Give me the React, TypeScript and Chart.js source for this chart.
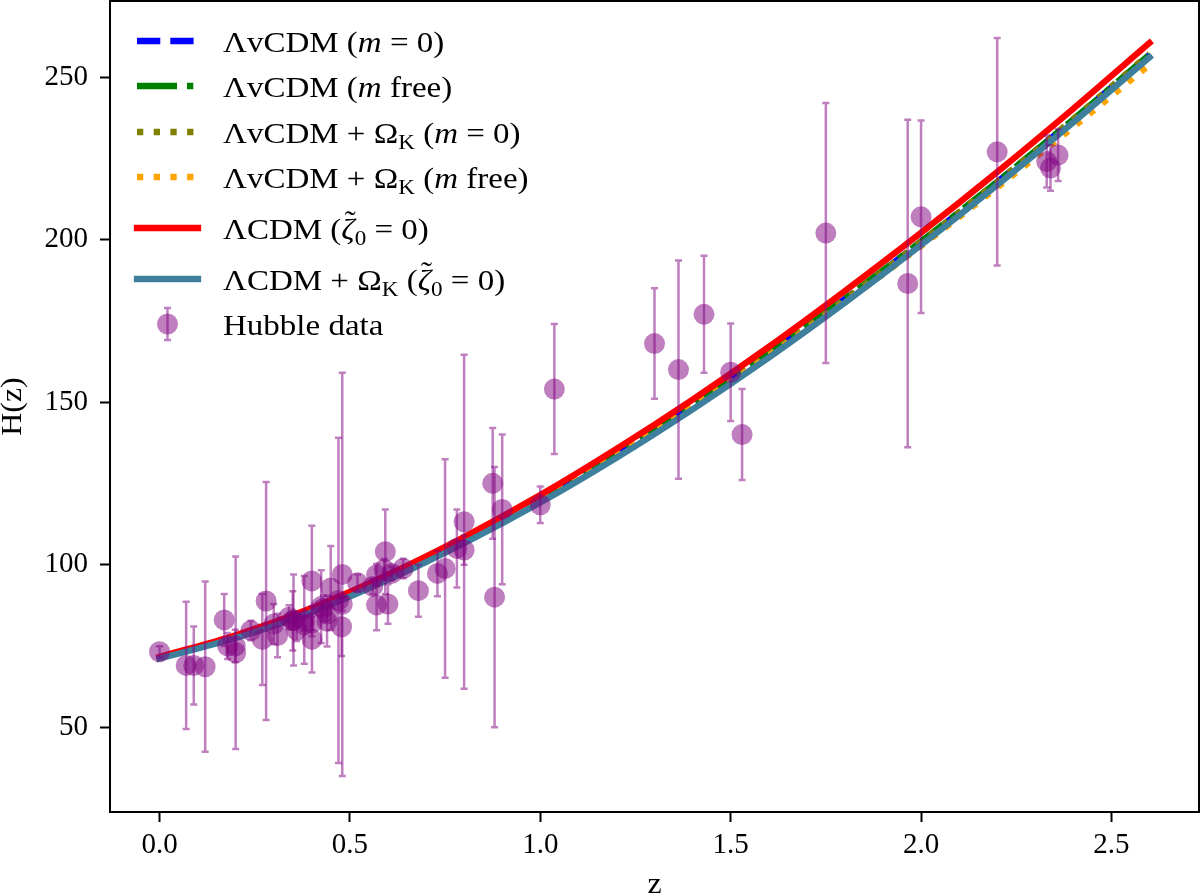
import React, { useEffect, useRef } from "react";
import { Chart, registerables } from "chart.js";

Chart.register(...registerables);

// ---------- data ----------
const Z_MODEL = [0, 0.2, 0.4, 0.6, 0.8, 1.0, 1.2, 1.4, 1.6, 1.8, 2.0, 2.2, 2.4, 2.6];

const H_LVCDM_M0 = [71.4, 77.9, 86.0, 96.0, 107.4, 120.0, 133.9, 148.9, 164.9, 181.7, 199.3, 217.7, 236.9, 256.8];
const H_LVCDM_MFREE = [71.4, 77.9, 86.0, 96.0, 107.4, 120.0, 133.9, 149.0, 165.0, 181.8, 199.4, 217.8, 237.0, 256.9];
const H_LVCDM_OK_M0 = [71.3, 77.8, 85.9, 95.9, 107.3, 119.9, 133.8, 148.8, 164.8, 181.6, 199.3, 217.8, 237.1, 257.2];
const H_LVCDM_OK_MFREE = [71.3, 77.8, 85.9, 95.9, 107.2, 119.8, 133.6, 148.4, 164.2, 180.8, 198.0, 216.0, 234.6, 253.8];
const H_LCDM = [71.6, 78.3, 86.7, 96.9, 108.5, 121.4, 135.6, 150.8, 167.0, 184.2, 202.1, 220.8, 240.3, 260.5];
const H_LCDM_OK = [71.1, 77.4, 85.4, 95.3, 106.6, 119.1, 132.9, 147.8, 163.7, 180.6, 198.3, 216.8, 236.1, 256.1];

const HZ_Z = [
  0, 0.07, 0.09, 0.12, 0.17, 0.179, 0.199, 0.2, 0.24, 0.27, 0.28, 0.30, 0.31, 0.34, 0.35, 0.352,
  0.36, 0.38, 0.3802, 0.4, 0.40, 0.4004, 0.4247, 0.43, 0.44, 0.44, 0.4497, 0.47, 0.4783, 0.48,
  0.48, 0.52, 0.56, 0.57, 0.57, 0.59, 0.593, 0.60, 0.61, 0.64, 0.68, 0.73, 0.75, 0.781, 0.8,
  0.8, 0.875, 0.88, 0.9, 1.0, 1.037, 1.3, 1.363, 1.43, 1.5, 1.53, 1.75, 1.965, 2.0, 2.2,
  2.33, 2.34, 2.36,
];
const HZ_H = [
  73.2, 69, 69, 68.6, 83, 75, 75, 72.9, 79.7, 77, 88.8, 81.7, 78.2, 83.8, 82.7, 83,
  79.9, 81.5, 83, 95, 82.0, 77, 87.1, 86.5, 82.6, 84.8, 92.8, 89, 80.9, 97,
  87.8, 94.4, 93.3, 87.6, 96.8, 98.5, 104, 87.9, 97.3, 98.8, 92, 97.3, 98.8, 105, 113.2,
  104.5, 125, 90, 117, 118.4, 154, 168, 160, 177, 159.2, 140, 202, 186.5, 207, 227,
  224, 222, 226,
];
const HZ_ERR = [
  1.7, 19.6, 12, 26.2, 8, 4, 5, 29.6, 3.0, 14, 36.6, 6.2, 6.7, 3.7, 9.1, 14,
  3.4, 1.9, 13.5, 17, 2.0, 10.2, 11.2, 4.0, 7.8, 1.8, 12.9, 50, 9, 62,
  2.0, 2.6, 2.3, 7.8, 3.4, 3.2, 13, 6.1, 2.1, 3.0, 8, 7.0, 33.6, 12, 51.4,
  4.5, 17, 40, 23, 5.6, 20, 17, 33.6, 18, 15, 14, 40, 50.4, 29.6, 35,
  8, 7, 8,
];

const X_TICKS = [0, 0.5, 1.0, 1.5, 2.0, 2.5];
const X_TICK_LABELS = ["0.0", "0.5", "1.0", "1.5", "2.0", "2.5"];
const Y_TICKS = [50, 100, 150, 200, 250];
const Y_TICK_LABELS = ["50", "100", "150", "200", "250"];

const X_LABEL = "z";
const Y_LABEL = "H(z)";

type Run = { t: string; it?: boolean; sub?: boolean; tilde?: boolean };
const LEGEND_LABELS: Run[][] = [
  [{ t: "ΛvCDM (" }, { t: "m", it: true }, { t: " = 0)" }],
  [{ t: "ΛvCDM (" }, { t: "m", it: true }, { t: " free)" }],
  [{ t: "ΛvCDM + Ω" }, { t: "K", sub: true }, { t: " (" }, { t: "m", it: true }, { t: " = 0)" }],
  [{ t: "ΛvCDM + Ω" }, { t: "K", sub: true }, { t: " (" }, { t: "m", it: true }, { t: " free)" }],
  [{ t: "ΛCDM (" }, { t: "ζ", it: true, tilde: true }, { t: "0", sub: true }, { t: " = 0)" }],
  [{ t: "ΛCDM + Ω" }, { t: "K", sub: true }, { t: " (" }, { t: "ζ", it: true, tilde: true }, { t: "0", sub: true }, { t: " = 0)" }],
  [{ t: "Hubble data" }],
];

// ---------- styles ----------
const FONT = '"Liberation Serif", "Times New Roman", serif';
const SX = 1.1;
const LW = 6.3;
const PURPLE = "rgba(128,0,128,0.5)";
const TEAL = "#3d7f9c";

const SERIES = [
  { data: H_LVCDM_M0, color: "#0000ff", dash: [23.3, 10], cap: "butt", order: 7 },
  { data: H_LVCDM_MFREE, color: "#008000", dash: [40, 10, 6.3, 10], cap: "butt", order: 6 },
  { data: H_LVCDM_OK_M0, color: "#808000", dash: [6.3, 10.4], cap: "butt", order: 5 },
  { data: H_LVCDM_OK_MFREE, color: "#ffa500", dash: [6.3, 10.4], cap: "butt", order: 4 },
  { data: H_LCDM, color: "#ff0000", dash: [] as number[], cap: "square", order: 3 },
  { data: H_LCDM_OK, color: TEAL, dash: [] as number[], cap: "square", order: 2 },
];

const LEGEND_ROWS_Y = [41, 86, 132, 177, 228, 279, 324];

function drawRich(ctx: CanvasRenderingContext2D, runs: Run[], x: number, y: number) {
  let cx = x;
  for (const r of runs) {
    const size = r.sub ? 21 : 30;
    ctx.font = `${r.it ? "italic " : ""}${size}px ${FONT}`;
    const dy = r.sub ? 6 : 0;
    const w = ctx.measureText(r.t).width;
    ctx.save();
    ctx.translate(cx, y + dy);
    ctx.scale(SX, 1);
    ctx.fillText(r.t, 0, 0);
    if (r.tilde) {
      ctx.font = `${size}px ${FONT}`;
      ctx.textAlign = "center";
      ctx.fillText("\u02DC", w / 2 + 2, -8);
    }
    ctx.restore();
    cx += w * SX;
  }
}

function drawErrorBar(ctx: CanvasRenderingContext2D, x: number, yTop: number, yBot: number) {
  ctx.beginPath();
  ctx.moveTo(x, yTop);
  ctx.lineTo(x, yBot);
  ctx.moveTo(x - 3.5, yTop);
  ctx.lineTo(x + 3.5, yTop);
  ctx.moveTo(x - 3.5, yBot);
  ctx.lineTo(x + 3.5, yBot);
  ctx.stroke();
}

const HUBBLE_INDEX = SERIES.length;

function zeroPadding(scale: any) {
  scale.paddingLeft = 0;
  scale.paddingRight = 0;
  scale.paddingTop = 0;
  scale.paddingBottom = 0;
}

const decorPlugin = {
  id: "decor",
  beforeDatasetDraw(chart: any, args: any) {
    if (args.index !== HUBBLE_INDEX) return;
    const { ctx, scales } = chart;
    ctx.save();
    ctx.strokeStyle = PURPLE;
    ctx.lineWidth = 2.5;
    for (let i = 0; i < HZ_Z.length; i++) {
      const x = scales.x.getPixelForValue(HZ_Z[i]);
      const yt = scales.y.getPixelForValue(HZ_H[i] + HZ_ERR[i]);
      const yb = scales.y.getPixelForValue(HZ_H[i] - HZ_ERR[i]);
      drawErrorBar(ctx, x, yt, yb);
    }
    ctx.restore();
  },
  afterDraw(chart: any) {
    const { ctx, chartArea } = chart;
    ctx.save();
    // frame
    ctx.strokeStyle = "#000";
    ctx.lineWidth = 2;
    ctx.strokeRect(chartArea.left, chartArea.top, chartArea.right - chartArea.left, chartArea.bottom - chartArea.top);

    // axis titles
    ctx.fillStyle = "#000";
    ctx.font = `29px ${FONT}`;
    ctx.textAlign = "center";
    ctx.textBaseline = "alphabetic";
    ctx.save();
    ctx.translate((chartArea.left + chartArea.right) / 2, 893);
    ctx.scale(SX, 1);
    ctx.fillText(X_LABEL, 0, 0);
    ctx.restore();
    ctx.save();
    ctx.translate(21, (chartArea.top + chartArea.bottom) / 2);
    ctx.rotate(-Math.PI / 2);
    ctx.scale(SX, 1);
    ctx.fillText(Y_LABEL, 0, 0);
    ctx.restore();

    // legend
    ctx.textAlign = "left";
    const hx0 = 137;
    const hx1 = 198;
    SERIES.forEach((s, i) => {
      const y = LEGEND_ROWS_Y[i];
      ctx.save();
      ctx.strokeStyle = s.color;
      ctx.lineWidth = LW;
      ctx.lineCap = s.cap as CanvasLineCap;
      ctx.setLineDash(s.dash);
      ctx.beginPath();
      ctx.moveTo(hx0, y);
      ctx.lineTo(s.dash.length ? 194 : hx1, y);
      ctx.stroke();
      ctx.restore();
    });
    const hy = LEGEND_ROWS_Y[6];
    ctx.save();
    ctx.fillStyle = PURPLE;
    ctx.beginPath();
    ctx.arc(167.5, hy, 10.5, 0, Math.PI * 2);
    ctx.fill();
    ctx.strokeStyle = PURPLE;
    ctx.lineWidth = 2.5;
    drawErrorBar(ctx, 167.5, hy - 16, hy + 16);
    ctx.restore();

    ctx.fillStyle = "#000";
    LEGEND_LABELS.forEach((runs, i) => {
      drawRich(ctx, runs, 223, LEGEND_ROWS_Y[i] + 11);
    });
    ctx.restore();
  },
};

export default function App() {
  const ref = useRef<HTMLCanvasElement | null>(null);

  useEffect(() => {
    if (!ref.current) return;
    const lineSets = SERIES.map((s) => ({
      type: "scatter" as const,
      data: Z_MODEL.map((z, i) => ({ x: z, y: s.data[i] })),
      showLine: true,
      borderColor: s.color,
      borderWidth: LW,
      borderDash: s.dash,
      borderCapStyle: s.cap,
      cubicInterpolationMode: "monotone",
      pointRadius: 0,
      order: s.order,
    }));
    const hubble = {
      type: "scatter" as const,
      data: HZ_Z.map((z, i) => ({ x: z, y: HZ_H[i] })),
      showLine: false,
      pointRadius: 10.5,
      pointBackgroundColor: PURPLE,
      pointBorderWidth: 0,
      pointBorderColor: "rgba(0,0,0,0)",
      order: 1,
    };
    const chart = new Chart(ref.current, {
      type: "scatter",
      data: { datasets: [...lineSets, hubble] as any },
      options: {
        animation: false,
        responsive: false,
        devicePixelRatio: 1,
        events: [],
        layout: { autoPadding: false, padding: { top: 1, right: 1, left: 0, bottom: 0 } },
        plugins: { legend: { display: false }, tooltip: { enabled: false } },
        scales: {
          x: {
            type: "linear",
            min: -0.13,
            max: 2.73,
            afterBuildTicks: (scale: any) => {
              scale.ticks = X_TICKS.map((v) => ({ value: v }));
            },
            afterFit: (scale: any) => {
              scale.height = 82;
              zeroPadding(scale);
            },
            border: { display: false },
            grid: { display: true, drawOnChartArea: false, drawTicks: true, tickLength: 10, tickWidth: 2, tickColor: "#000" },
            ticks: {
              color: "#000",
              font: { family: FONT, size: 29 },
              padding: 6,
              maxRotation: 0,
              autoSkip: false,
              callback: (v: any) => X_TICK_LABELS[X_TICKS.indexOf(Number(v))] ?? "",
            },
          },
          y: {
            type: "linear",
            min: 23.9,
            max: 273.4,
            afterBuildTicks: (scale: any) => {
              scale.ticks = Y_TICKS.map((v) => ({ value: v }));
            },
            afterFit: (scale: any) => {
              scale.width = 110;
              zeroPadding(scale);
            },
            border: { display: false },
            grid: { display: true, drawOnChartArea: false, drawTicks: true, tickLength: 10, tickWidth: 2, tickColor: "#000" },
            ticks: {
              color: "#000",
              font: { family: FONT, size: 29 },
              padding: 12,
              autoSkip: false,
              callback: (v: any) => Y_TICK_LABELS[Y_TICKS.indexOf(Number(v))] ?? "",
            },
          },
        },
      },
      plugins: [decorPlugin],
    } as any);
    return () => chart.destroy();
  }, []);

  return (
    <div style={{ position: "fixed", left: 0, top: 0, width: 1200, height: 894, background: "#fff" }}>
      <canvas ref={ref} width={1200} height={894} style={{ display: "block", width: 1200, height: 894 }} />
    </div>
  );
}
